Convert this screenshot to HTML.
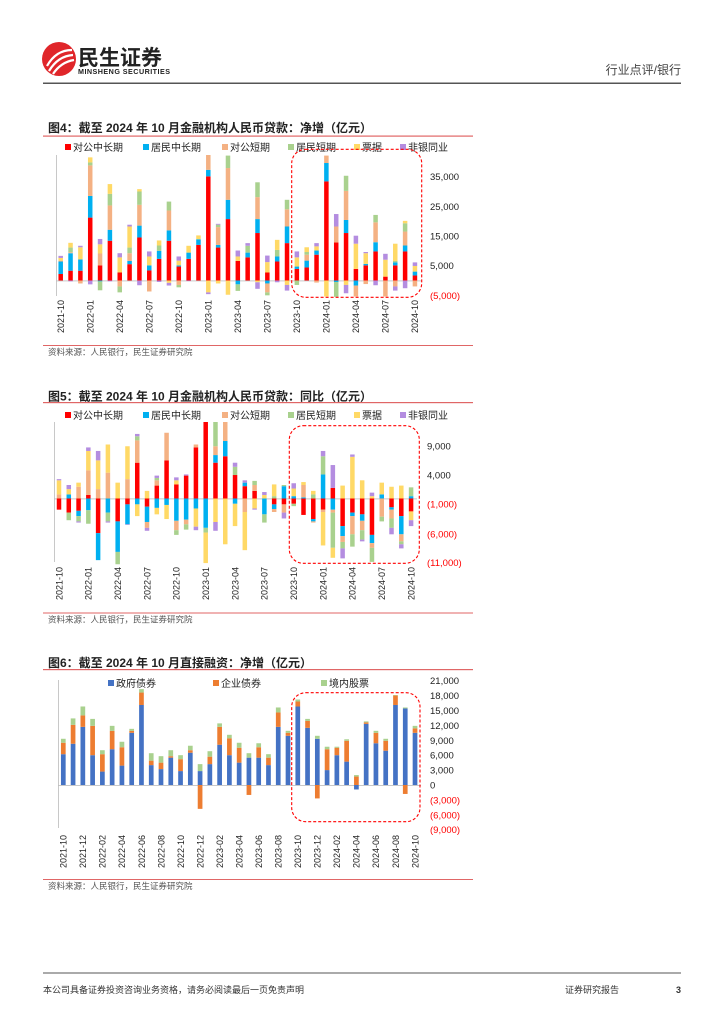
<!DOCTYPE html>
<html><head><meta charset="utf-8">
<style>
body{margin:0;background:#fff;}
svg{display:block;font-family:"Liberation Sans","Noto Sans CJK SC",sans-serif;}
</style></head>
<body>
<svg id="s" width="724" height="1024" viewBox="0 0 724 1024" xmlns="http://www.w3.org/2000/svg">
<defs>
<clipPath id="c1"><rect x="50" y="155" width="380" height="160"/></clipPath>
<clipPath id="c2"><rect x="50" y="422" width="380" height="160"/></clipPath>
<clipPath id="c3"><rect x="50" y="670" width="380" height="180"/></clipPath>
</defs>
<!-- header -->
<circle cx="59" cy="59" r="17" fill="#e0262a"/>
<path d="M47 66 Q56 50 72 50 M49 71 Q58 56 73 55 M53 74 Q61 62 74 60" stroke="#fff" stroke-width="2.2" fill="none"/>
<text x="78" y="65" font-size="21" font-weight="bold" fill="#222">民生证券</text>
<text x="78" y="74" font-size="7.2" font-weight="bold" fill="#222" textLength="92">MINSHENG SECURITIES</text>
<text x="681" y="74" font-size="12" fill="#444" text-anchor="end">行业点评/银行</text>
<rect x="43" y="82.5" width="638" height="1.5" fill="#555"/>
<!-- footer -->
<rect x="43" y="972.5" width="638" height="1" fill="#555"/>
<text x="43" y="993" font-size="9" fill="#333">本公司具备证券投资咨询业务资格，请务必阅读最后一页免责声明</text>
<text x="565" y="993" font-size="9" fill="#333">证券研究报告</text>
<text x="681" y="993" font-size="9" fill="#333" text-anchor="end" font-weight="bold">3</text>
<g id="g"></g>
</svg>
<script>
var NS="http://www.w3.org/2000/svg",G=document.getElementById('g');
function el(t,a,txt,p){var e=document.createElementNS(NS,t);for(var k in a)e.setAttribute(k,a[k]);if(txt!=null)e.textContent=txt;(p||G).appendChild(e);return e;}
var C6=["#ff0000","#00b0f0","#f4b183","#a9d18e","#ffd966","#b48de0"];
var C3=["#4472c4","#ed7d31","#a9d18e"];
function months(y,m,n,step){var r=[];for(var i=0;i<n;i++){var mm=m+i;var yy=y+Math.floor((mm-1)/12);mm=((mm-1)%12)+1;r.push(yy+"-"+(mm<10?"0":"")+mm);}return r;}
function chart(o){
  el('text',{x:48,y:o.ty,'font-size':12,'font-weight':'bold',fill:'#222'},o.title);
  el('rect',{x:43,y:o.ly,width:430,height:1.2,fill:'#e06666'});
  el('rect',{x:43,y:o.sy,width:430,height:1,fill:'#e06666'});
  el('text',{x:48,y:o.sy+10,'font-size':8.5,fill:'#555'},'资料来源：人民银行，民生证券研究院');
  o.leg.forEach(function(l){el('rect',{x:l[0],y:o.legy-7,width:6,height:6,fill:l[2]});el('text',{x:l[0]+8,y:o.legy,'font-size':10,fill:'#222'},l[1]);});
  el('rect',{x:o.ax,y:o.a0,width:0.8,height:o.a1-o.a0,fill:'#bbb'});
  el('rect',{x:o.ax,y:o.zero,width:o.x1-o.ax+6,height:0.8,fill:'#bbb'});
  var cg=el('g',{'clip-path':'url(#'+o.clip+')'});
  o.data.forEach(function(d,i){
    var x=o.x0+i*o.dx-o.bw/2,p=0,n=0;
    d.forEach(function(v,j){if(!v)return;var h=Math.abs(v)*o.k;
      if(v>0){p+=h;el('rect',{x:x,y:o.zero-p,width:o.bw,height:h,fill:o.col[j]},null,cg);}
      else{el('rect',{x:x,y:o.zero+n,width:o.bw,height:h,fill:o.col[j]},null,cg);n+=h;}});
  });
  o.ticks.forEach(function(t){el('text',{x:o.tx,y:t[1]+3.5,'font-size':9.5,fill:t[2]?'#ff0000':'#222'},t[0]);});
  var lab=months(2021,10,37);
  for(var i=0;i<37;i+=o.ls){var x=o.x0+i*o.dx+3.3;el('text',{x:x,y:o.xly,'font-size':9,fill:'#222','text-anchor':'end',transform:'rotate(-90 '+x+' '+o.xly+')'},lab[i]);}
  var r=o.rect;el('rect',{x:r[0],y:r[1],width:r[2]-r[0],height:r[3]-r[1],rx:14,fill:'none',stroke:'#ff0000','stroke-width':1.1,'stroke-dasharray':'3,2'});
}
var d1=[[2.2,4.2,0.3,0,0.9,0.7],[3.3,5.9,0.3,1.6,1.6,-0.3],[3.3,3.8,-1,0,4.1,0.5],[21.2,7.3,10.3,1.0,1.7,-1.3],[5.1,-0.3,4.0,-3.0,3.1,1.8],[13.4,3.7,8.2,3.9,3.3,-0.3],[2.7,0,-2,-2,5.1,1.4],[5.5,1.1,2.6,1.9,7.1,0.6],[14.5,4,7,4.5,0.8,-1.6],[3.4,1.7,-3.7,0,3,1.7],[7.3,2.7,0,1.8,1.7,-0.5],[13.4,3.5,6.7,3,-0.8,-0.9],[4.7,0.4,-1.5,-0.8,1.6,1.4],[7.3,2.1,0,0,2.3,-0.2],[12,1.9,0,0,1.3,0],[35.1,2.2,5.1,0,-4,-0.6],[11.1,0.9,6,0.8,-1,0.3],[20.7,6.5,10.7,4.2,-4.8,0],[6.6,-1.3,0,-2.2,1.5,2],[7.8,1.6,0,2.3,0,0.9],[16,4.7,7.4,5,-0.6,-2.2],[2.7,-1,-3,-1,3.5,2.2],[6.4,1.7,0,2.2,3.4,-0.6],[12.6,5.6,5.8,3.2,-1.5,-1.9],[3.9,0.8,0,-1.5,3.1,2],[4.4,2.3,2,0.9,1.6,0],[8.7,1.4,-0.7,0,1.4,1.1],[33.4,6.2,2.5,0,-5.4,0],[12.8,-0.5,5.4,-5,0,4.2],[16,4.4,9.8,5.1,-1.5,-2.8],[3.9,-1.7,-3.7,0,8.5,2.7],[5.1,0.5,-1.2,0,3.6,0.4],[9.8,3.1,6.7,2.5,0,-1.6],[1.3,0,-5.4,0,5.7,2],[5.1,1,-2,0.5,5.8,-1.4],[9.8,2,4.7,2.8,0.8,-2.6],[1.7,1.3,-2,0,1.9,1.2]];
var d2=[[-1.9,0,0.7,0,2.4,0.2],[-2.4,0.7,0,-1.3,0.9,0.7],[-2.1,-0.9,2,-0.9,0.7,-0.2],[0.6,-2,4.2,-2.3,3.3,0.6],[-5.9,-4.6,1.6,0,4.9,1.6],[0,-2.4,4.4,-1.5,4.8,-0.2],[-3.9,-5.2,0,-2.1,2.7,0],[-1,-3.4,3.3,0,5.6,-0.1],[6.1,-1,3.8,0.7,-2,0.4],[-1.4,-2.6,-1,0,1.3,-0.5],[2.2,-1.6,0.9,0.4,-1.1,0.4],[6.5,-1.1,4.7,0,-2.4,0],[2.4,-3.8,-1.6,-0.8,0.7,0.5],[3.9,-3.6,-0.8,-0.9,0,0.2],[8.7,-1.7,0.5,0,-3.1,-0.6],[14,-5,0,-0.8,-5.2,0],[6.1,1.3,1.5,5,-4,-1.5],[7.2,2.6,3.5,0,-7.8,0],[4,-0.9,0,1.4,-3.8,0.7],[2.1,0.6,-2.3,0,-6.5,0.4],[1.3,0,1,0.7,-1.7,-0.2],[0,-2.7,0,-1.4,0.6,0.5],[-1,-0.8,-0.5,0.4,2,0],[-1,2.1,-1.4,0.2,0,-1],[-0.9,0.4,0,-0.4,1.3,0.9],[-2.8,0.2,2.1,0,0.5,0],[-3.5,-0.4,-0.2,0.7,0.6,0],[-1.9,4.1,-0.4,3.1,-5.7,0.9],[1.8,-1.9,-0.5,-6,-1.7,3.9],[-4.7,-1.7,-1,-1.1,2.2,-1.7],[-2.4,-0.6,-3.1,-2.1,7.1,0.4],[-2.7,-1.1,-1.6,-1.6,3.1,-0.3],[-6.2,-1.4,-0.8,-2.4,0.4,0.6],[0,0.7,-3.1,-0.8,2,0],[-1.5,-0.4,-1.5,-1.6,2,-1.1],[-3,-3.1,-1.2,-0.5,2.2,-0.7],[-2.2,0.4,0,1.5,-1.5,-1]];
var d3=[[6.2,2.3,0.8],[8.3,3.8,1.3],[11.7,2.3,1.8],[6,5.9,1.4],[2.7,3.5,0.8],[7.2,3.7,1],[3.9,3.7,1.1],[10.5,0.4,0.4],[16.1,2.5,0.7],[4,0.9,1.5],[3.2,1.3,1.3],[5.5,0.3,1.2],[2.8,2.4,0.8],[6.5,0.5,0.9],[2.8,-4.8,1.4],[4.2,1.5,1.1],[8.1,3.6,0.7],[6,3.4,0.7],[4.5,3,1],[5.5,-2,0.9],[5.5,2.1,0.8],[4,1.5,0.7],[11.7,2.9,1],[9.9,0.6,0.4],[15.8,1,0.4],[11.5,1.4,0.4],[9.3,-2.7,0.6],[3,4.2,0.5],[6,1.5,0.2],[4.7,4.2,0.3],[-0.9,1.7,0.3],[12.3,0.3,0.2],[8.4,2.1,0.4],[6.9,2,0.4],[16.1,1.9,0.1],[15.4,-1.8,0.2],[10.5,0.9,0.5]];
var leg6=function(y){return [[65,'对公中长期',C6[0]],[143,'居民中长期',C6[1]],[222,'对公短期',C6[2]],[288,'居民短期',C6[3]],[354,'票据',C6[4]],[400,'非银同业',C6[5]]];};
chart({title:'图4：截至 2024 年 10 月金融机构人民币贷款：净增（亿元）',ty:132,ly:135.5,sy:345,legy:151,leg:leg6(),col:C6,data:d1,
 ax:56,a0:155,a1:296,zero:280.5,k:2.967,x0:60.7,dx:9.84,x1:415,bw:4.5,clip:'c1',tx:430,
 ticks:[['35,000',176.7],['25,000',206.3],['15,000',236],['5,000',265.7],['(5,000)',295.3,1]],ls:3,xly:300,rect:[291.7,149.3,421.7,297.3]});
chart({title:'图5：截至 2024 年 10 月金融机构人民币贷款：同比（亿元）',ty:400.5,ly:402,sy:612.5,legy:419,leg:leg6(),col:C6,data:d2,
 ax:54,a0:422,a1:562,zero:498.5,k:5.87,x0:59,dx:9.78,x1:411,bw:4.5,clip:'c2',tx:427,
 ticks:[['9,000',446],['4,000',475],['(1,000)',504,1],['(6,000)',534,1],['(11,000)',562.7,1]],ls:3,xly:567,rect:[289.3,425.7,419.3,563.3]});
chart({title:'图6：截至 2024 年 10 月直接融资：净增（亿元）',ty:667,ly:669,sy:879,legy:687,leg:[[108,'政府债券',C3[0]],[213,'企业债券',C3[1]],[321,'境内股票',C3[2]]],col:C3,data:d3,
 ax:58,a0:680,a1:828,zero:785,k:4.97,x0:63.3,dx:9.77,x1:415,bw:4.7,clip:'c3',tx:430,
 ticks:[['21,000',680.7],['18,000',695.6],['15,000',710.5],['12,000',725.4],['9,000',740.3],['6,000',755.2],['3,000',770.1],['0',785],['(3,000)',799.9,1],['(6,000)',814.8,1],['(9,000)',829.7,1]],ls:2,xly:835,rect:[291.7,692.7,420,821.7]});
</script>
</body></html>
